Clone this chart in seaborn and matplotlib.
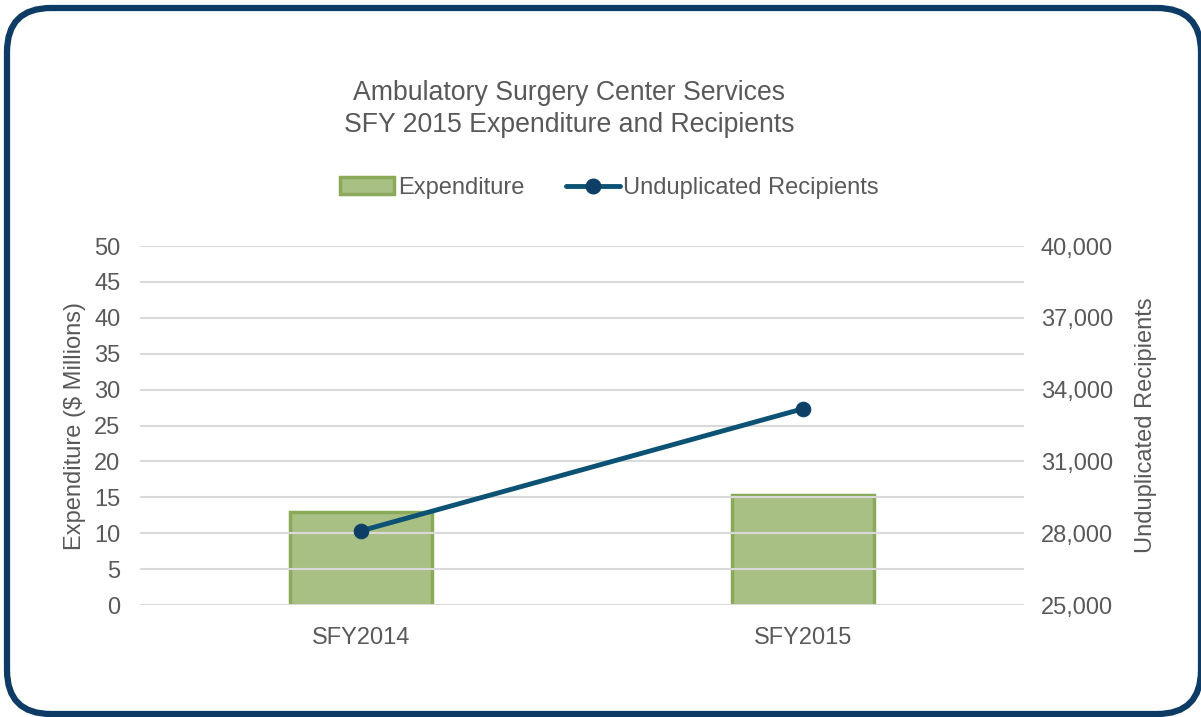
import numpy as np
import pandas as pd
import matplotlib
matplotlib.use("Agg")
import matplotlib.pyplot as plt
import seaborn as sns
from matplotlib.patches import FancyBboxPatch, Patch
from matplotlib.lines import Line2D
from matplotlib.ticker import FuncFormatter

# values
years = ["SFY2014", "SFY2015"]
expenditure = [13.0, 15.3]          # $ millions
recipients = [28100, 33200]         # unduplicated recipients

left_ticks = list(range(0, 51, 5))
right_ticks = list(range(25000, 40001, 3000))

sns.set_theme(style="white")
plt.rcParams["font.family"] = ["Liberation Sans", "DejaVu Sans"]
txt = "#595959"
fs = 17

df = pd.DataFrame({"year": years, "exp": expenditure, "rec": recipients})

W, H = 1201, 717
fig = plt.figure(figsize=(W / 100, H / 100), dpi=100)

# background axes in pixel units, for the rounded frame
bg = fig.add_axes([0, 0, 1, 1], zorder=-5)
bg.set_xlim(0, W)
bg.set_ylim(0, H)
bg.axis("off")
frame = FancyBboxPatch((7, 3), 1194, 706, boxstyle="round,pad=0,rounding_size=44",
                       facecolor="none", edgecolor="#0d3b66", linewidth=4.5, clip_on=False)
bg.add_patch(frame)

ax = fig.add_axes([0.1166, 0.1562, 0.736, 0.5007])

sns.barplot(data=df, x="year", y="exp", ax=ax, width=0.32, saturation=1,
            color="#a9c084", edgecolor="#8aaa5a", linewidth=2.5, zorder=1)
ax.set_xlim(-0.5, 1.5)
ax.set_ylim(0, 50)
ax.set_yticks(left_ticks)
ax.yaxis.grid(True, color="#d9d9d9", linewidth=1.5, zorder=2)
ax.set_axisbelow(False)
ax.set_xlabel("")
ax.set_ylabel("Expenditure ($ Millions)", fontsize=fs, color=txt, labelpad=6)
ax.tick_params(axis="y", labelsize=fs, colors=txt, pad=14, length=0)
ax.tick_params(axis="x", labelsize=fs, colors=txt, pad=16, length=0)
for s in ax.spines.values():
    s.set_visible(False)

ax2 = ax.twinx()
sns.lineplot(data=df, x="year", y="rec", ax=ax2, color="#0b5274", linewidth=3.5,
             marker="o", markersize=10.5, markerfacecolor="#0d3f66",
             markeredgecolor="#0d3f66", sort=False)
ax2.set_ylim(25000, 40000)
ax2.set_yticks(right_ticks)
ax2.yaxis.set_major_formatter(FuncFormatter(lambda v, p: f"{int(v):,}"))
ax2.set_ylabel("Unduplicated Recipients", fontsize=fs, color=txt, labelpad=16)
ax2.tick_params(axis="y", labelsize=fs, colors=txt, pad=12, length=0)
ax2.grid(False)
for s in ax2.spines.values():
    s.set_visible(False)

fig.text(0.474, 0.848, "Ambulatory Surgery Center Services\nSFY 2015 Expenditure and Recipients",
         ha="center", va="center", fontsize=19.2, color=txt, linespacing=1.3)

handles = [
    Patch(facecolor="#a9c084", edgecolor="#8aaa5a", linewidth=2.5, label="Expenditure"),
    Line2D([0], [0], color="#0b5274", linewidth=3.5, marker="o", markersize=10.5,
           markerfacecolor="#0d3f66", markeredgecolor="#0d3f66", label="Unduplicated Recipients"),
]
fig.legend(handles=handles, loc="center", bbox_to_anchor=(0.5075, 0.738), ncol=2,
           frameon=False, fontsize=fs, labelcolor=txt, handlelength=2.3,
           handletextpad=0.15, columnspacing=1.75)

fig.savefig("out.png", dpi=100)
